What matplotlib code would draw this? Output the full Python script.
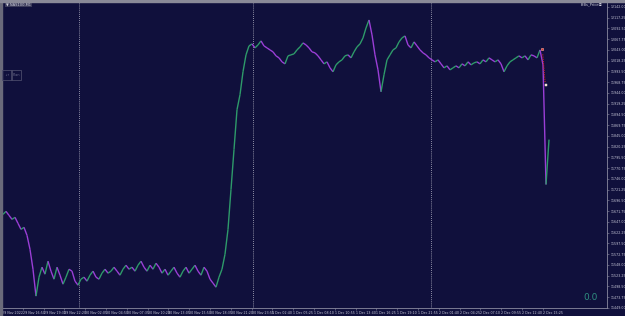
import numpy as np
import matplotlib
matplotlib.use("Agg")
import matplotlib.pyplot as plt
from matplotlib.collections import LineCollection
from matplotlib.patches import Rectangle

# ---------------- data ----------------
symbol = "NAS100,M1"
indicator = "iBBs_Price\u24ea"

price = [
    11669.2, 11664.6, 11671.5, 11662.3, 11653.1, 11657.7, 11643.9, 11630.1, 11634.7, 11616.4,
    11584.2, 11538.3, 11476.4, 11520.0, 11542.9, 11526.9, 11556.7, 11533.8, 11515.4, 11542.9,
    11524.6, 11503.9, 11520.0, 11538.3, 11533.8, 11510.8, 11501.6, 11515.4, 11520.0, 11510.8,
    11524.6, 11533.8, 11520.0, 11515.4, 11529.2, 11538.3, 11529.2, 11533.8, 11542.9, 11533.8,
    11524.6, 11538.3, 11547.5, 11538.3, 11542.9, 11533.8, 11547.5, 11556.7, 11542.9, 11533.8,
    11547.5, 11538.3, 11552.1, 11542.9, 11529.2, 11538.3, 11524.6, 11533.8, 11542.9, 11529.2,
    11520.0, 11533.8, 11542.9, 11529.2, 11538.3, 11547.5, 11533.8, 11524.6, 11542.9, 11533.8,
    11515.4, 11506.2, 11497.0, 11520.0, 11538.3, 11572.8, 11630.1, 11721.9, 11813.7, 11905.5,
    11940.0, 11992.8, 12031.8, 12052.4, 12057.0, 12047.8, 12054.7, 12063.9, 12052.4, 12047.8,
    12043.2, 12038.7, 12029.5, 12024.9, 12015.7, 12011.1, 12029.5, 12031.8, 12034.1, 12043.2,
    12050.1, 12059.3, 12054.7, 12047.8, 12038.7, 12036.4, 12029.5, 12020.3, 12011.1, 12015.7,
    12001.9, 11992.8, 12008.8, 12015.7, 12020.3, 12029.5, 12031.8, 12024.9, 12038.7, 12050.1,
    12057.0, 12070.8, 12093.7, 12112.1, 12077.7, 12031.8, 11997.3, 11946.9, 11985.9, 12020.3,
    12031.8, 12043.2, 12047.8, 12061.6, 12070.8, 12075.4, 12054.7, 12047.8, 12061.6, 12052.4,
    12043.2, 12036.4, 12031.8, 12024.9, 12020.3, 12015.7, 12020.3, 12011.1, 12001.9, 12006.5,
    11997.3, 12001.9, 12006.5, 12001.9, 12011.1, 12006.5, 12015.7, 12008.8, 12013.4, 12015.7,
    12011.1, 12020.3, 12015.7, 12024.9, 12020.3, 12015.7, 12020.3, 12011.1, 11992.8, 12006.5,
    12015.7, 12020.3, 12024.9, 12029.5, 12024.9, 12029.5, 12020.3, 12031.8, 12029.5, 12024.9,
    12043.2, 12008.8, 11733.4, 11836.7,
]

day_breaks = [26.33, 84.33, 143.67]

xtick_labels = [
    "29 Nov 2022", "29 Nov 16:50", "29 Nov 19:35", "29 Nov 22:20",
    "30 Nov 02:05", "30 Nov 04:50", "30 Nov 07:35", "30 Nov 10:20",
    "30 Nov 13:05", "30 Nov 15:50", "30 Nov 18:35", "30 Nov 21:20",
    "30 Nov 23:55", "1 Dec 02:40", "1 Dec 05:25", "1 Dec 08:10",
    "1 Dec 10:55", "1 Dec 13:40", "1 Dec 16:25", "1 Dec 19:10",
    "1 Dec 21:55", "2 Dec 01:40", "2 Dec 04:25", "2 Dec 07:10",
    "2 Dec 09:55", "2 Dec 12:40", "2 Dec 15:25",
]

ytick_values = [
    12142.00, 12117.25, 12092.50, 12067.75, 12043.00, 12018.25, 11993.50,
    11968.75, 11944.00, 11919.25, 11894.50, 11869.75, 11845.00, 11820.25,
    11795.50, 11770.75, 11746.00, 11721.25, 11696.50, 11671.75, 11647.00,
    11622.25, 11597.50, 11572.75, 11548.00, 11523.25, 11498.50, 11473.75,
    11449.00,
]

trade_open = (180.6, 12045.0)
trade_close = (181.9, 11962.0)

# ---------------- style ----------------
BG = "#10103c"
GRID_TXT = "#c8c8d8"
AX_COL = "#8a8aa0"
UP = "#2e9a6a"
DOWN = "#9a3ed6"
FS = 2.3

W, H = 625, 316
fig = plt.figure(figsize=(W / 100, H / 100), dpi=100, facecolor=BG)

left_px, right_px, top_px, bottom_px = 2, 607, 1, 308
ax = fig.add_axes([left_px / W, 1 - bottom_px / H, (right_px - left_px) / W,
                   (bottom_px - top_px) / H])
ax.set_facecolor(BG)

bars = np.arange(len(price))
p = np.array(price)
segs = [[(bars[i - 1], p[i - 1]), (bars[i], p[i])] for i in range(1, len(p))]
cols = [UP if p[i] >= p[i - 1] else DOWN for i in range(1, len(p))]
lc = LineCollection(segs, colors=cols, linewidths=1.0, capstyle="butt")
ax.add_collection(lc)

for d in day_breaks:
    ax.axvline(d, color="#b8b8c8", lw=0.6, ls=(0, (1, 1.5)), zorder=1)

# trade markers
ax.plot([trade_open[0] + 0.3, trade_close[0] - 0.2],
        [trade_open[1] - 12, trade_close[1] + 6],
        color="#d02020", lw=0.8, ls=(0, (1, 1)), zorder=4)
ax.plot(*trade_open, marker="s", ms=2.0, color="#e03030", mec="#ffb0a0", mew=0.4, zorder=5)
ax.plot(*trade_close, marker="s", ms=2.0, color="#f0d0b0", mec="#ffffff", mew=0.3, zorder=5)

ax.set_xlim(0.67, 202.33)
ax.set_ylim(11451.3, 12155.8)

ax.yaxis.tick_right()
ax.set_yticks(ytick_values)
ax.set_yticklabels([f"{v:.2f}" for v in ytick_values], fontsize=FS, color=GRID_TXT)
ax.tick_params(axis="y", length=1.5, width=0.4, color=AX_COL, pad=1)

xticks = 0.67 + np.arange(len(xtick_labels)) * 6.933
ax.set_xticks(xticks)
ax.set_xticklabels(xtick_labels, fontsize=FS, color=GRID_TXT, ha="left")
ax.tick_params(axis="x", length=1.5, width=0.4, color=AX_COL, pad=1)

for s in ["left", "top"]:
    ax.spines[s].set_visible(False)
for s in ["right", "bottom"]:
    ax.spines[s].set_color(AX_COL)
    ax.spines[s].set_linewidth(0.6)

# frame strips
fig.patches.append(Rectangle((0, 0), 2 / W, 1, transform=fig.transFigure,
                             color="#6a6a7a", zorder=10))
fig.patches.append(Rectangle((0, 1 - 1.5 / H), 1, 1.5 / H, transform=fig.transFigure,
                             color="#8a8a98", zorder=10))

# texts
fig.text(6 / W, 1 - 4.5 / H, "\u25bc " + symbol, fontsize=2.6, color="#d0d0dc",
         va="center", ha="left",
         bbox=dict(boxstyle="square,pad=0.15", fc="#3a3a5a", ec="none"))
fig.text(603 / W, 1 - 4.5 / H, indicator, fontsize=2.6, color="#d0d0dc",
         va="center", ha="right", family=["DejaVu Sans", "Noto Sans CJK JP"])
fig.text(598 / W, 1 - 298 / H, "0.0", fontsize=6.5, color="#2f8f80",
         va="center", ha="right")

for (x0, lab) in [(2, "\u2193\u2191"), (11, "Plan")]:
    fig.patches.append(Rectangle((x0 / W, 1 - 80 / H), 10 / W, 10 / H,
                                 transform=fig.transFigure, fill=False,
                                 ec="#4a4a6a", lw=0.6, zorder=10))
    fig.text((x0 + 5) / W, 1 - 75 / H, lab, fontsize=2.5, color="#6a6a8a",
             ha="center", va="center")

fig.savefig("out.png", dpi=100, facecolor=BG)
